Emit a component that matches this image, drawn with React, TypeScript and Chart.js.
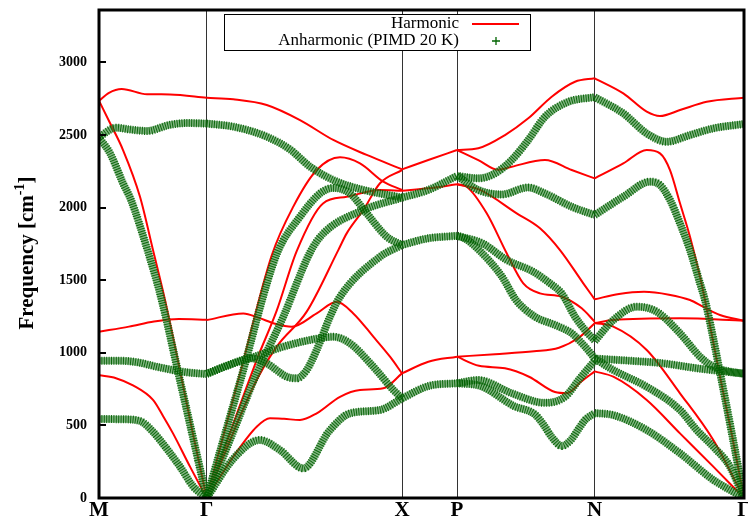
import { useEffect, useRef } from 'react';
import { Chart, registerables } from 'chart.js';

Chart.register(...registerables);

// High-symmetry points along the k-path
const kPoints = [0, 1.077, 3.03, 3.58, 4.957, 6.45];
const kLabels = ['M', 'Γ', 'X', 'P', 'N', 'Γ'];
const yTicks = [0, 500, 1000, 1500, 2000, 2500, 3000];
const yMax = 3360;

type Branch = [number, number][];

// Harmonic bands [k, frequency cm^-1], per path segment
const harmonicMG: Branch[] = [
  [[0, 2735], [0.1, 2790], [0.227, 2816], [0.48, 2780], [0.71, 2779], [1.077, 2756]],
  [[0, 2735], [0.11, 2582], [0.24, 2396], [0.41, 2074], [0.54, 1707], [0.66, 1363], [0.81, 876], [0.94, 440], [1.077, 0]],
  [[0, 1145], [0.3, 1180], [0.55, 1215], [0.8, 1232], [1.077, 1228]],
  [[0, 845], [0.17, 825], [0.34, 775], [0.54, 675], [0.64, 565], [0.74, 445], [0.91, 216], [1.077, 0]],
];
const harmonicGX: Branch[] = [
  [[1.077, 2756], [1.343, 2745], [1.677, 2706], [2.01, 2602], [2.343, 2465], [2.677, 2362], [3.03, 2263]],
  [[1.077, 0], [1.41, 855], [1.727, 1670], [1.943, 2006], [2.177, 2258], [2.41, 2346], [2.61, 2304], [2.843, 2178], [3.03, 2121]],
  [[1.077, 0], [1.577, 950], [1.777, 1290], [1.977, 1700], [2.24, 2028], [2.477, 2074], [2.81, 2121], [3.03, 2116]],
  [[1.077, 0], [1.543, 766], [1.777, 1042], [2.077, 1283], [2.393, 1707], [2.477, 1822], [2.643, 1983], [2.81, 2167], [3.03, 2258]],
  [[1.077, 1225], [1.443, 1271], [1.6, 1240], [1.76, 1200], [1.927, 1179], [2.177, 1271], [2.377, 1351], [2.543, 1271], [2.743, 1111], [2.91, 973], [3.03, 858]],
  [[1.077, 0], [1.343, 284], [1.577, 491], [1.71, 549], [1.85, 545], [2.01, 537], [2.177, 583], [2.41, 697], [2.61, 744], [2.843, 755], [3.03, 858]],
];
const harmonicXP: Branch[] = [
  [[3.03, 2263], [3.293, 2327], [3.58, 2396]],
  [[3.03, 2116], [3.293, 2132], [3.58, 2160]],
  [[3.03, 858], [3.293, 938], [3.58, 973]],
];
const harmonicPN: Branch[] = [
  [[3.58, 2396], [3.793, 2408], [4.06, 2499], [4.293, 2614], [4.527, 2763], [4.76, 2866], [4.957, 2890]],
  [[3.58, 2396], [3.793, 2327], [3.993, 2260], [4.127, 2281], [4.46, 2327], [4.727, 2258], [4.957, 2201]],
  [[3.58, 2160], [3.81, 2121], [4.177, 1960], [4.41, 1857], [4.61, 1707], [4.843, 1478], [4.957, 1368]],
  [[3.58, 2160], [3.677, 2143], [3.877, 1960], [4.077, 1685], [4.243, 1478], [4.41, 1409], [4.627, 1386], [4.827, 1306], [4.957, 1214]],
  [[3.58, 973], [3.96, 990], [4.35, 1010], [4.6, 1035], [4.8, 1105], [4.957, 1203]],
  [[3.58, 973], [3.8, 910], [4.06, 893], [4.3, 835], [4.56, 730], [4.68, 722], [4.82, 800], [4.957, 872]],
];
const harmonicNG: Branch[] = [
  [[4.957, 2890], [5.243, 2786], [5.477, 2660], [5.61, 2630], [5.81, 2671], [6.077, 2728], [6.45, 2756]],
  [[4.957, 2201], [5.243, 2304], [5.477, 2396], [5.61, 2373], [5.71, 2258], [5.81, 2029], [5.91, 1799], [6.01, 1524], [6.06, 1363], [6.2, 870], [6.33, 430], [6.45, 0]],
  [[4.957, 1368], [5.2, 1405], [5.45, 1420], [5.7, 1400], [5.91, 1363], [6.04, 1317], [6.21, 1260], [6.45, 1221]],
  [[4.957, 1205], [5.143, 1225], [5.81, 1237], [6.45, 1221]],
  [[4.957, 1205], [5.143, 1180], [5.477, 1019], [5.81, 721], [6.143, 399], [6.45, 0]],
  [[4.957, 872], [5.143, 835], [5.477, 675], [5.81, 445], [6.143, 216], [6.45, 0]],
];

// Anharmonic (PIMD 20 K) bands
const anharmonicMG: Branch[] = [
  [[0, 2485], [0.17, 2550], [0.3, 2538], [0.48, 2527], [0.7, 2568], [0.88, 2582], [1.077, 2578]],
  [[0, 2480], [0.11, 2375], [0.24, 2167], [0.32, 2052], [0.485, 1707], [0.627, 1363], [0.81, 809], [0.94, 415], [1.077, 0]],
  [[0, 945], [0.2, 945], [0.38, 935], [0.6, 900], [0.85, 868], [1.077, 853]],
  [[0, 544], [0.25, 542], [0.41, 530], [0.54, 456], [0.61, 399], [0.81, 216], [0.943, 78], [1.077, 0]],
];
const anharmonicGX: Branch[] = [
  [[1.077, 2578], [1.343, 2557], [1.677, 2488], [1.91, 2400], [2.11, 2281], [2.343, 2189], [2.61, 2127], [3.03, 2068]],
  [[1.077, 0], [1.41, 800], [1.777, 1680], [2.01, 1937], [2.21, 2097], [2.343, 2135], [2.51, 2097], [2.677, 1960], [2.877, 1799], [3.03, 1742]],
  [[1.077, 0], [1.377, 516], [1.577, 858], [1.843, 1248], [2.11, 1690], [2.243, 1822], [2.643, 1983], [3.03, 2068]],
  [[1.077, 855], [1.343, 927], [1.51, 962], [1.843, 1042], [2.11, 1088], [2.343, 1110], [2.51, 1065], [2.743, 904], [2.943, 744], [3.03, 686]],
  [[1.077, 855], [1.343, 927], [1.51, 962], [1.677, 927], [1.877, 835], [1.977, 824], [2.077, 881], [2.177, 1019], [2.31, 1248], [2.41, 1386], [2.81, 1661], [3.03, 1742]],
  [[1.077, 0], [1.343, 270], [1.61, 399], [1.81, 330], [2.043, 204], [2.3, 460], [2.51, 583], [2.81, 606], [3.03, 686]],
];
const anharmonicXP: Branch[] = [
  [[3.03, 2068], [3.293, 2121], [3.58, 2218]],
  [[3.03, 1742], [3.293, 1788], [3.58, 1805]],
  [[3.03, 686], [3.293, 771], [3.58, 790]],
];
const anharmonicPN: Branch[] = [
  [[3.58, 2218], [3.793, 2201], [3.96, 2235], [4.127, 2327], [4.293, 2465], [4.46, 2625], [4.693, 2728], [4.957, 2760]],
  [[3.58, 2218], [3.793, 2121], [4.027, 2090], [4.29, 2138], [4.46, 2097], [4.727, 2005], [4.957, 1948]],
  [[3.58, 1805], [3.833, 1754], [4.077, 1639], [4.343, 1558], [4.51, 1478], [4.627, 1409], [4.76, 1248], [4.88, 1140], [4.957, 1085]],
  [[3.58, 1805], [3.65, 1790], [3.8, 1707], [4.03, 1524], [4.17, 1363], [4.36, 1248], [4.56, 1191], [4.727, 1134], [4.86, 1042], [4.957, 962]],
  [[3.58, 790], [3.793, 812], [4.127, 721], [4.46, 655], [4.66, 697], [4.81, 825], [4.957, 945]],
  [[3.58, 790], [3.82, 770], [4.143, 635], [4.36, 575], [4.45, 500], [4.527, 420], [4.627, 358], [4.72, 400], [4.8, 480], [4.86, 537], [4.957, 585]],
];
const anharmonicNG: Branch[] = [
  [[4.957, 2760], [5.243, 2648], [5.477, 2510], [5.677, 2453], [5.91, 2499], [6.143, 2545], [6.45, 2575]],
  [[4.957, 1948], [5.243, 2074], [5.51, 2178], [5.61, 2155], [5.71, 2052], [5.81, 1891], [5.91, 1707], [6.01, 1478], [6.06, 1363], [6.2, 900], [6.33, 440], [6.45, 0]],
  [[4.957, 1080], [5.143, 1225], [5.377, 1317], [5.577, 1283], [5.81, 1134], [6.01, 973], [6.143, 904], [6.31, 870], [6.45, 856]],
  [[4.957, 960], [5.31, 945], [5.643, 927], [5.977, 893], [6.45, 856]],
  [[4.957, 960], [5.143, 881], [5.477, 766], [5.81, 606], [5.977, 468], [6.143, 353], [6.31, 216], [6.45, 0]],
  [[4.957, 585], [5.143, 571], [5.477, 468], [5.81, 308], [6.143, 124], [6.31, 55], [6.45, 0]],
];

const harmonic = [...harmonicMG, ...harmonicGX, ...harmonicXP, ...harmonicPN, ...harmonicNG];
const anharmonic = [...anharmonicMG, ...anharmonicGX, ...anharmonicXP, ...anharmonicPN, ...anharmonicNG];

const SERIF = '"Liberation Serif", "Times New Roman", serif';

const toPts = (b: Branch) => b.map(([x, y]) => ({ x, y }));

const overlayPlugin = {
  id: 'overlay',
  afterDraw(chart: any) {
    const { ctx, chartArea: a, scales } = chart;
    const ys = scales.y;
    ctx.save();
    // inward y ticks
    ctx.strokeStyle = '#000';
    ctx.lineWidth = 2;
    yTicks.forEach((v) => {
      const py = Math.round(ys.getPixelForValue(v));
      ctx.beginPath();
      ctx.moveTo(a.left, py);
      ctx.lineTo(a.left + 7, py);
      ctx.stroke();
    });
    // frame
    ctx.lineWidth = 3;
    ctx.strokeRect(a.left, a.top, a.right - a.left, a.bottom - a.top);

    // legend box
    ctx.fillStyle = '#fff';
    ctx.fillRect(224.5, 14.5, 306, 36);
    ctx.lineWidth = 1;
    ctx.strokeStyle = '#000';
    ctx.strokeRect(224.5, 14.5, 306, 36);
    ctx.fillStyle = '#000';
    ctx.font = `17px ${SERIF}`;
    ctx.textAlign = 'right';
    ctx.textBaseline = 'middle';
    ctx.fillText('Harmonic', 459, 24);
    ctx.fillText('Anharmonic (PIMD 20 K)', 459, 41);
    ctx.strokeStyle = '#ff0000';
    ctx.lineWidth = 2;
    ctx.beginPath();
    ctx.moveTo(472, 24);
    ctx.lineTo(519, 24);
    ctx.stroke();
    ctx.strokeStyle = '#006400';
    ctx.lineWidth = 1.3;
    ctx.beginPath();
    ctx.moveTo(492, 41);
    ctx.lineTo(500, 41);
    ctx.moveTo(496, 37);
    ctx.lineTo(496, 45);
    ctx.stroke();

    // y-axis title with superscript
    ctx.fillStyle = '#000';
    const main = 'Frequency [cm';
    const sup = '-1';
    const end = ']';
    ctx.font = `bold 21px ${SERIF}`;
    const w1 = ctx.measureText(main).width;
    const w3 = ctx.measureText(end).width;
    ctx.font = `bold 14px ${SERIF}`;
    const w2 = ctx.measureText(sup).width;
    const total = w1 + w2 + w3;
    ctx.translate(33, 253);
    ctx.rotate(-Math.PI / 2);
    ctx.textAlign = 'left';
    ctx.textBaseline = 'alphabetic';
    let x0 = -total / 2;
    ctx.font = `bold 21px ${SERIF}`;
    ctx.fillText(main, x0, 0);
    x0 += w1;
    ctx.font = `bold 14px ${SERIF}`;
    ctx.fillText(sup, x0, -9);
    x0 += w2;
    ctx.font = `bold 21px ${SERIF}`;
    ctx.fillText(end, x0, 0);
    ctx.restore();
  },
};

export default function App() {
  const ref = useRef<HTMLCanvasElement>(null);
  useEffect(() => {
    if (!ref.current) return;
    const datasets: any[] = [];
    anharmonic.forEach((b) => {
      datasets.push({
        data: toPts(b),
        borderColor: 'rgba(0,95,0,0.9)',
        borderWidth: 8,
        borderDash: [1, 1.4],
        pointRadius: 0,
        cubicInterpolationMode: 'monotone',
        fill: false,
        order: 0,
      });
      datasets.push({
        data: toPts(b),
        borderColor: 'rgba(45,130,45,0.6)',
        borderWidth: 7,
        pointRadius: 0,
        cubicInterpolationMode: 'monotone',
        fill: false,
        order: 1,
      });
    });
    harmonic.forEach((b) => {
      datasets.push({
        data: toPts(b),
        borderColor: '#ff0000',
        borderWidth: 2,
        pointRadius: 0,
        cubicInterpolationMode: 'monotone',
        fill: false,
        order: 2,
      });
    });

    const chart = new Chart(ref.current, {
      type: 'line',
      data: { datasets },
      options: {
        animation: false,
        responsive: false,
        layout: { padding: { left: 0, right: 4, top: 10, bottom: 0 } },
        plugins: { legend: { display: false }, tooltip: { enabled: false } },
        scales: {
          x: {
            type: 'linear',
            min: 0,
            max: 6.45,
            border: { display: false },
            grid: { color: '#333', lineWidth: 1, drawTicks: false },
            afterBuildTicks: (s: any) => {
              s.ticks = kPoints.map((v) => ({ value: v }));
            },
            afterFit: (s: any) => {
              s.height = 26;
              s.paddingLeft = 0;
              s.paddingRight = 0;
            },
            ticks: {
              autoSkip: false,
              maxRotation: 0,
              padding: 0,
              color: '#000',
              font: { family: SERIF, size: 21, weight: 'bold' },
              callback: (_v: any, i: number) => kLabels[i],
            },
          },
          y: {
            type: 'linear',
            min: 0,
            max: yMax,
            border: { display: false },
            grid: { display: false, drawTicks: false },
            afterBuildTicks: (s: any) => {
              s.ticks = yTicks.map((v) => ({ value: v }));
            },
            afterFit: (s: any) => {
              s.width = 99;
              s.paddingTop = 0;
              s.paddingBottom = 0;
            },
            ticks: {
              padding: 12,
              color: '#000',
              font: { family: SERIF, size: 14, weight: 'bold' },
              callback: (v: any) => String(v),
            },
          },
        },
      },
      plugins: [overlayPlugin],
    } as any);
    return () => chart.destroy();
  }, []);
  return (
    <div style={{ position: 'absolute', left: 0, top: 0, width: 748, height: 524, background: '#fff' }}>
      <canvas ref={ref} width={748} height={524} style={{ display: 'block' }} />
    </div>
  );
}
